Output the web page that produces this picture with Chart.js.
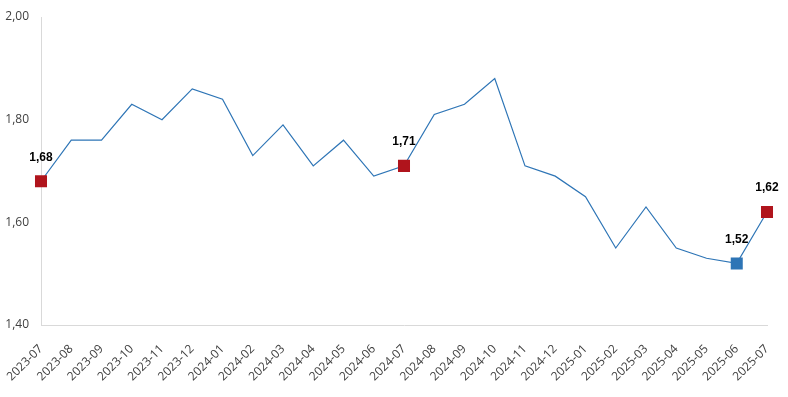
<!DOCTYPE html>
<html>
<head>
<meta charset="utf-8">
<script src="https://cdn.jsdelivr.net/npm/chart.js@4/dist/chart.umd.min.js"></script>
<style>
  html, body { margin: 0; padding: 0; background: #fff; }
  #wrap { width: 788px; height: 397px; position: relative; }
</style>
</head>
<body>
<div id="wrap"><canvas id="chart"></canvas></div>
<script>
// ============================================
// Data
// ============================================
const months = [
    '2023-07', '2023-08', '2023-09', '2023-10', '2023-11', '2023-12',
    '2024-01', '2024-02', '2024-03', '2024-04', '2024-05', '2024-06',
    '2024-07', '2024-08', '2024-09', '2024-10', '2024-11', '2024-12',
    '2025-01', '2025-02', '2025-03', '2025-04', '2025-05', '2025-06', '2025-07'
];
const values = [
    1.68, 1.76, 1.76, 1.83, 1.80, 1.86,
    1.84, 1.73, 1.79, 1.71, 1.76, 1.69,
    1.71, 1.81, 1.83, 1.88, 1.71, 1.69,
    1.65, 1.55, 1.63, 1.55, 1.53, 1.52, 1.62
];
const yTicks = [1.40, 1.60, 1.80, 2.00];
// highlighted points: index -> marker kind
const highlights = { 0: 'high', 12: 'high', 23: 'low', 24: 'high' };

const LINE = '#2E75B6';
const RED = '#B0141C';
const BLUE = '#2E75B6';

function fmt(v) {
    return v.toFixed(2).replace('.', ',');
}

// ============================================
// Labels on highlighted points
// ============================================
const pointLabels = {
    id: 'pointLabels',
    afterDatasetsDraw(chart) {
        const ctx = chart.ctx;
        const meta = chart.getDatasetMeta(0);
        ctx.save();
        ctx.font = 'bold 12px "Liberation Sans", Arial, sans-serif';
        ctx.fillStyle = '#000';
        ctx.textAlign = 'center';
        ctx.textBaseline = 'middle';
        Object.keys(highlights).forEach(k => {
            const i = +k;
            const pt = meta.data[i];
            ctx.fillText(fmt(values[i]), pt.x, pt.y - 24);
        });
        ctx.restore();
    }
};

// ============================================
// Chart
// ============================================
const pointColors = values.map((v, i) => highlights[i] === 'low' ? BLUE : (highlights[i] ? RED : LINE));
const pointRadius = values.map((v, i) => highlights[i] ? 8.5 : 0);

new Chart(document.getElementById('chart'), {
    type: 'line',
    data: {
        labels: months,
        datasets: [{
            data: values,
            borderColor: LINE,
            borderWidth: 1.2,
            tension: 0,
            fill: false,
            pointStyle: 'rect',
            pointRadius: pointRadius,
            pointHoverRadius: pointRadius,
            pointBackgroundColor: pointColors,
            pointBorderColor: pointColors,
            pointBorderWidth: 0
        }]
    },
    options: {
        responsive: true,
        maintainAspectRatio: false,
        animation: false,
        layout: { padding: { top: 17, right: 21, left: 0, bottom: 0 } },
        plugins: {
            legend: { display: false },
            tooltip: { enabled: false }
        },
        scales: {
            x: {
                offset: false,
                grid: { display: false, drawTicks: false },
                border: { display: true, color: '#d9d9d9', width: 1 },
                ticks: {
                    minRotation: 45,
                    maxRotation: 45,
                    autoSkip: false,
                    padding: 17,
                    color: '#404040',
                    font: { family: '"Open Sans", sans-serif', size: 12 }
                },
                afterFit(scale) {
                    scale.height = 72;
                    scale.paddingLeft = 0;
                    scale.paddingRight = 0;
                }
            },
            y: {
                min: 1.40,
                max: 2.00,
                afterBuildTicks(scale) {
                    scale.ticks = yTicks.map(v => ({ value: v }));
                },
                grid: { display: false, drawTicks: false },
                border: { display: true, color: '#d9d9d9', width: 1, dash: [2, 2] },
                ticks: {
                    padding: 12,
                    color: '#404040',
                    font: { family: '"Open Sans", sans-serif', size: 12 },
                    callback: v => fmt(v)
                },
                afterFit(scale) {
                    scale.width = 41;
                    scale.paddingTop = 0;
                    scale.paddingBottom = 0;
                }
            }
        }
    },
    plugins: [pointLabels]
});
</script>
</body>
</html>
